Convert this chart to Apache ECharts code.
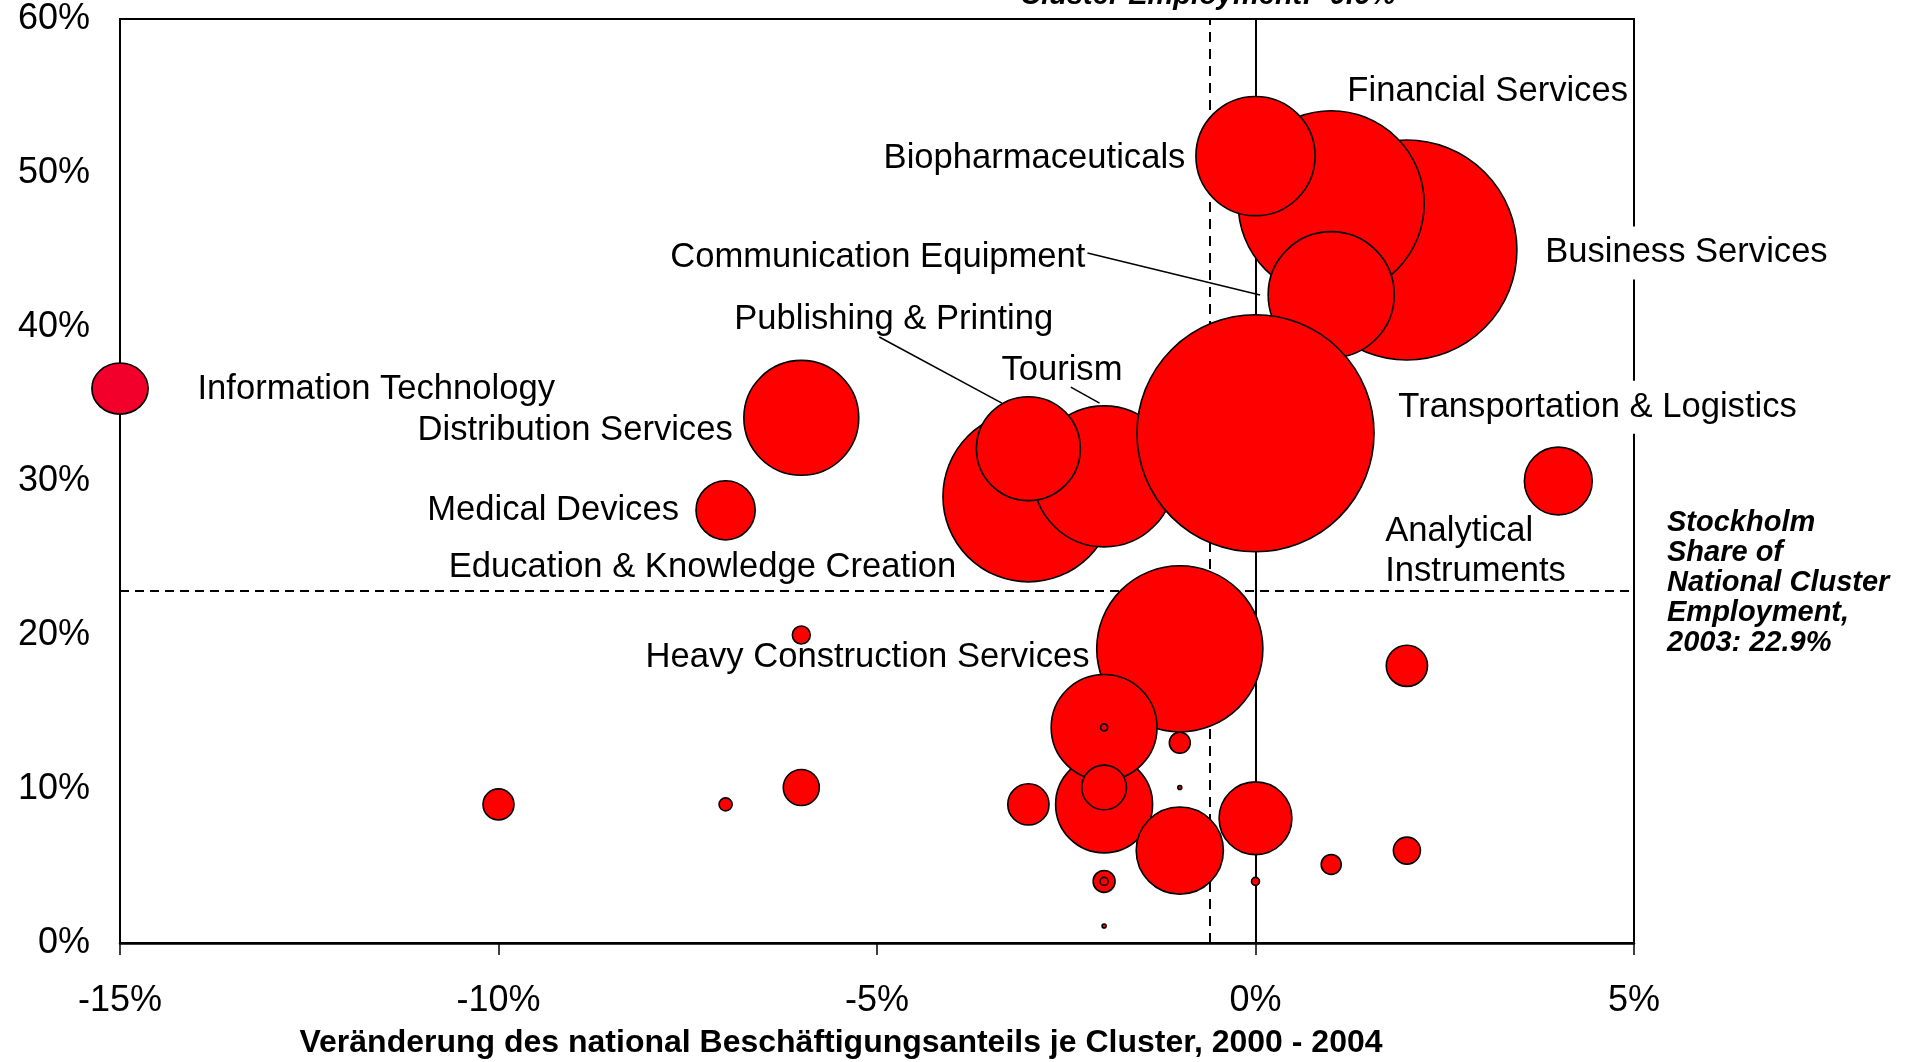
<!DOCTYPE html>
<html>
<head>
<meta charset="utf-8">
<title>Stockholm clusters</title>
<script src="https://cdn.jsdelivr.net/npm/echarts@6/dist/echarts.min.js"></script>
<style>
  html, body { margin: 0; padding: 0; background: #fff; }
  #chart { width: 1911px; height: 1062px; }
</style>
</head>
<body>
<div id="chart"></div>
<script>
// change in national employment share 2000-2004 (%), Stockholm share of national cluster employment 2003 (%), cluster size
var clusterNames = [
  'Business Services', 'Financial Services', 'Communication Equipment', 'Biopharmaceuticals',
  'Education & Knowledge Creation', 'Tourism', 'Publishing & Printing', 'Transportation & Logistics',
  'Distribution Services', 'Medical Devices', 'Analytical Instruments', 'Heavy Construction Services',
  'c13', 'c14', 'c15', 'c16', 'c17', 'c18', 'c19', 'c20', 'c21', 'c22', 'c23', 'c24',
  'c25', 'c26', 'c27', 'c28', 'c29', 'c30', 'c31', 'c32', 'Information Technology'
];
var shareChange = [
  2, 1, 1, 0,
  -3, -2, -3, 0,
  -6, -7, 4, -1,
  -2, -2, -2, -1, 0, -3, -6, -10, 2, 2, 1, -1,
  -6, -7, -2, -2, 0, -2, -1, -2, -15
];
var stockholmShare = [
  45, 48, 42.1, 51.1,
  29, 30.3, 32.1, 33.1,
  34.1, 28.1, 30, 19.1,
  9.0, 14, 10.1, 6.0, 8.1, 9.0, 10.1, 9.0, 18.0, 6.0, 5.1, 13.0,
  20.0, 9.0, 4.0, 4.0, 4.0, 14.0, 10.1, 1.1, 36
];
var clusterSize = [
  484, 346, 159, 142,
  292, 199, 108, 562,
  132, 35, 46, 276,
  94, 112, 20, 76, 53, 17, 13, 9.6, 17, 7.3, 4, 4.4,
  3.2, 1.7, 4.8, 0.64, 0.64, 0.5, 0.16, 0.16, 28.6
];

// reference values
var avgShare = 22.9;
var avgChange = -0.6;

// annotation labels (anchored in data units)
var labelText = [
  'Financial Services', 'Biopharmaceuticals', 'Business Services', 'Communication Equipment',
  'Publishing & Printing', 'Tourism', 'Information Technology', 'Distribution Services',
  'Transportation & Logistics', 'Medical Devices', 'Analytical\nInstruments',
  'Education & Knowledge Creation', 'Heavy Construction Services'
];
var labelX = [1.22, -0.92, 3.78, -2.24, -6.88, -3.35, -13.97, -6.90, 1.84, -7.61, 1.72, -10.65, -8.05];
var labelY = [55.23, 50.88, 44.78, 44.48, 40.43, 37.15, 35.88, 33.28, 34.75, 28.08, 25.38, 24.38, 18.48];
var labelAlign = ['left', 'right', 'left', 'right', 'left', 'left', 'left', 'right', 'left', 'right', 'left', 'left', 'left'];

// leader lines from labels to bubbles
var leaderLines = [
  [[-2.22, 44.8], [0.06, 42.08]],
  [[-4.97, 39.35], [-3.35, 35.06]],
  [[-2.44, 36.1], [-2.06, 35.06]]
];

var FONT = '"Liberation Sans", Arial, Helvetica, sans-serif';
var chart = echarts.init(document.getElementById('chart'));

var bubbleData = clusterNames.map(function (n, i) {
  var item = { name: n, value: [shareChange[i], stockholmShare[i], clusterSize[i]] };
  if (n === 'Information Technology') item.itemStyle = { color: '#f2002b' };
  return item;
});

var labelData = labelText.map(function (t, i) {
  var item = { name: t, value: [labelX[i], labelY[i]], label: { align: labelAlign[i] } };
  if (t === 'Business Services' || t === 'Transportation & Logistics') {
    item.label.backgroundColor = '#fff';
    item.label.padding = [9, 4];
  }
  if (t.indexOf('\n') >= 0) item.label.lineHeight = 40;
  return item;
});

var refLines = [
  { coords: [[-15, avgShare], [5, avgShare]], lineStyle: { type: [9, 6], width: 2 } },
  { coords: [[avgChange, 0], [avgChange, 60]], lineStyle: { type: [10, 7], width: 2 } },
  { coords: [[0, 0], [0, 60]], lineStyle: { type: 'solid', width: 2 } }
];
leaderLines.forEach(function (c) {
  refLines.push({ coords: c, lineStyle: { type: 'solid', width: 1.5 } });
});

chart.setOption({
  animation: false,
  backgroundColor: '#fff',
  textStyle: { fontFamily: FONT },
  grid: {
    left: 120, right: 277, top: 19, bottom: 119,
    show: true, borderColor: '#000', borderWidth: 2
  },
  xAxis: {
    type: 'value', min: -15, max: 5, interval: 5,
    axisLine: { onZero: false, lineStyle: { color: '#000', width: 2.5 } },
    axisTick: { show: true, length: 12, lineStyle: { color: '#000', width: 1.5 } },
    splitLine: { show: false },
    axisLabel: { color: '#000', fontSize: 36, fontFamily: FONT, margin: 40, formatter: '{value}%' }
  },
  yAxis: {
    type: 'value', min: 0, max: 60, interval: 10,
    axisLine: { show: true, onZero: false, lineStyle: { color: '#000', width: 2 } },
    axisTick: { show: false },
    splitLine: { show: false },
    axisLabel: {
      color: '#000', fontSize: 36, fontFamily: FONT, margin: 30, padding: [5, 0, 0, 0],
      formatter: '{value}%'
    }
  },
  graphic: [
    {
      type: 'text', x: 1208, y: -4, silent: true,
      style: {
        text: 'Cluster Employment: -0.6%', fill: '#000', align: 'center', verticalAlign: 'middle',
        font: 'italic bold 29px ' + FONT
      }
    },
    {
      type: 'text', x: 1667, y: 508, silent: true,
      style: {
        text: 'Stockholm\nShare of\nNational Cluster\nEmployment,\n2003: 22.9%',
        fill: '#000', align: 'left', verticalAlign: 'top', lineHeight: 30,
        font: 'italic bold 29px ' + FONT
      }
    },
    {
      type: 'text', x: 841, y: 1043, silent: true,
      style: {
        text: 'Veränderung des national Beschäftigungsanteils je Cluster, 2000 - 2004',
        fill: '#000', align: 'center', verticalAlign: 'middle',
        font: 'bold 32px ' + FONT
      }
    }
  ],
  series: [
    {
      type: 'lines',
      coordinateSystem: 'cartesian2d',
      z: 1,
      silent: true,
      lineStyle: { color: '#000', opacity: 1 },
      data: refLines
    },
    {
      type: 'scatter',
      z: 1,
      silent: true,
      clip: false,
      symbolSize: 1,
      itemStyle: { color: 'rgba(0,0,0,0)' },
      label: {
        show: true, position: [0, 0], color: '#000', opacity: 1, fontSize: 34.6, fontFamily: FONT,
        verticalAlign: 'middle', textBorderWidth: 0,
        formatter: function (p) { return p.name; }
      },
      data: labelData
    },
    {
      type: 'scatter',
      z: 2,
      clip: false,
      symbolSize: function (val, p) {
        var d = 10 * Math.sqrt(val[2]);
        if (p.name === 'Information Technology') return [d * 1.05, d * 0.955];
        return d;
      },
      itemStyle: { color: '#ff0000', borderColor: '#000', borderWidth: 1.6, opacity: 1 },
      data: bubbleData
    }
  ]
});
</script>
</body>
</html>
